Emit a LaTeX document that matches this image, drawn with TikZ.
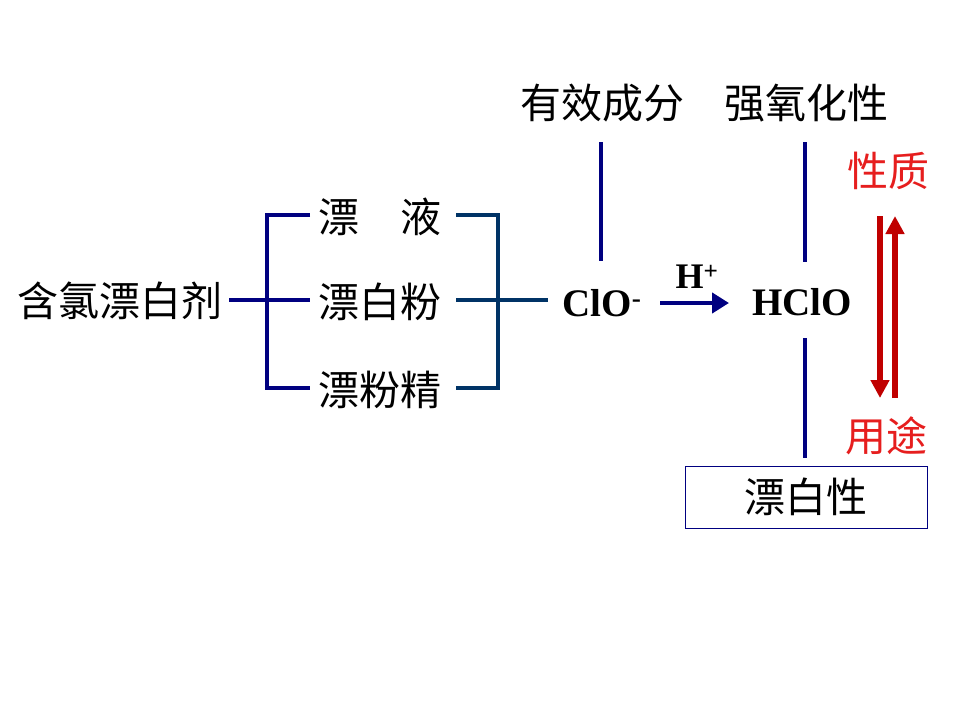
\documentclass[tikz,border=0pt]{standalone}
\usepackage{fontspec}
\setmainfont{Liberation Serif}
\newfontfamily\cjk{Noto Sans CJK SC}
\usetikzlibrary{arrows.meta}
\definecolor{navy}{RGB}{0,0,128}
\definecolor{teal}{RGB}{0,51,102}
\definecolor{lred}{RGB}{230,30,30}
\definecolor{dred}{RGB}{192,0,0}
\begin{document}
\begin{tikzpicture}[x=1pt,y=-1pt,
  cn/.style={font=\cjk\fontsize{41}{43}\selectfont, inner sep=0pt},
  chem/.style={font=\bfseries\fontsize{39}{41}\selectfont, inner sep=0pt},
  red/.style={cn, text=lred},
  nline/.style={draw=navy, line width=4.5pt},
  tline/.style={draw=teal, line width=4.5pt},
  rarr/.style={draw=dred, line width=5.5pt, -{Triangle[length=18pt,width=18pt]}}]
\useasboundingbox (0,0) rectangle (960,720);
% left
\node[cn] (src) at (120,301) {含氯漂白剂};
\node[cn] (a) at (380,217) {漂\hspace{1em}液};
\node[cn] (b) at (380,302) {漂白粉};
\node[cn] (c) at (380,390) {漂粉精};
\coordinate (lt) at (267,215);
\coordinate (lb) at (267,388);
\draw[nline] (310,215) -- (lt) -- (lb) -- (310,388);
\draw[nline] (229,300) -- (310,300);
% right bracket
\draw[tline] (456,215) -- (498,215) -- (498,388) -- (456,388);
\draw[tline] (456,300) -- (548,300);
% chem
\node[chem] (clo) at (602,303) {ClO\textsuperscript{-}};
\node[chem] (hclo) at (802,302) {HClO};
\draw[draw=navy, line width=4.5pt, -{Triangle[length=17pt,width=20pt]}] (660,303) -- (729,303);
\node[chem, font=\bfseries\fontsize{36}{38}\selectfont] (hp) at (697,277) {H\textsuperscript{+}};
% top labels
\node[cn] (eff) at (602,103) {有效成分};
\node[cn] (ox) at (806,103) {强氧化性};
\draw[nline] (601,142) -- (601,261);
\draw[nline] (805,142) -- (805,262);
\draw[nline] (805,338) -- (805,458);
% box
\node[cn, draw=navy, line width=1pt, minimum width=242pt, minimum height=62pt] (bl) at (806,497) {漂白性};
% red
\node[red] (xz) at (888,171) {性质};
\node[red] (yt) at (886,436) {用途};
\draw[rarr] (880,216) -- (880,398);
\draw[rarr] (895,398) -- (895,216);
\end{tikzpicture}
\end{document}
